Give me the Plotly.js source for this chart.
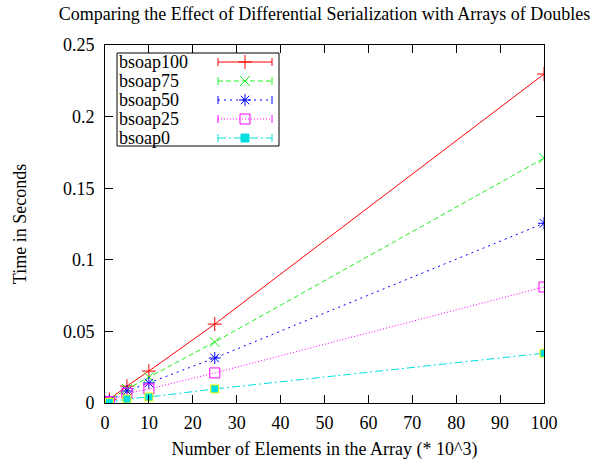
<!DOCTYPE html>
<html>
<head>
<meta charset="utf-8">
<script src="https://cdn.plot.ly/plotly-3.0.1.min.js"></script>
<style>html,body{margin:0;padding:0;background:#fff;}#chart{width:601px;height:460px;}</style>
</head>
<body>
<div id="chart"></div>
<script>
const elements = [0, 1, 5, 10, 25, 100];
const seriesNames = ["bsoap100", "bsoap75", "bsoap50", "bsoap25", "bsoap0"];
const bsoap100 = [0.0004, 0.0025, 0.0118, 0.0223, 0.0551, 0.2297];
const bsoap75  = [0.0003, 0.0020, 0.0098, 0.0180, 0.0426, 0.1710];
const bsoap50  = [0.0003, 0.0015, 0.0084, 0.0140, 0.0314, 0.1255];
const bsoap25  = [0.0002, 0.0010, 0.0068, 0.0098, 0.0210, 0.0810];
const bsoap0   = [0.0001, 0.0005, 0.0028, 0.0042, 0.0098, 0.0348];
const xTicks = [0,10,20,30,40,50,60,70,80,90,100];
const yTicks = [0,0.05,0.1,0.15,0.2,0.25];
const yTickText = ["0","0.05","0.1","0.15","0.2","0.25"];

const values = [bsoap100, bsoap75, bsoap50, bsoap25, bsoap0];
const colors = ["#ff0000", "#22ee22", "#0000ff", "#ff00ff", "#00e0e0"];
const dashes = ["solid", "5px,3px", "2px,4px", "1px,2px", "8px,3px,2px,3px"];
const symbols = ["cross-thin-open", "x-thin-open", "asterisk-open", "square-open", "square"];

const L = 105, R = 544, T = 45, B = 403;

const traces = values.map((v, i) => ({
  x: elements, y: v, name: seriesNames[i], type: "scatter", mode: "lines+markers",
  showlegend: false,
  line: {color: colors[i], width: 1, dash: dashes[i]},
  marker: {symbol: symbols[i], size: i === 4 ? 8 : 10, color: colors[i],
           line: {color: i === 4 ? "#ffff00" : colors[i], width: 1}}
}));

// custom key (gnuplot style) in pixel coordinates via hidden overlay axes
const keyTop = 62, keyStep = 19;
const keyX0 = 218, keyX1 = 272, keyXm = 245;
const shapes = [{type: "rect", xref: "x2", yref: "y2", x0: 117, x1: 279, y0: 53, y1: 146,
                 line: {color: "#000", width: 1}, fillcolor: "#fff", layer: "below"}];
const annotations = [];
seriesNames.forEach((n, i) => {
  const yy = keyTop + i * keyStep;
  shapes.push({type: "line", xref: "x2", yref: "y2", x0: keyX0, x1: keyX1, y0: yy, y1: yy,
               line: {color: colors[i], width: 1, dash: dashes[i]}});
  shapes.push({type: "line", xref: "x2", yref: "y2", x0: keyX0, x1: keyX0, y0: yy - 4, y1: yy + 4,
               line: {color: colors[i], width: 1}});
  shapes.push({type: "line", xref: "x2", yref: "y2", x0: keyX1, x1: keyX1, y0: yy - 4, y1: yy + 4,
               line: {color: colors[i], width: 1}});
  annotations.push({xref: "x2", yref: "y2", x: 118, y: yy, text: n, showarrow: false,
                    xanchor: "left", yanchor: "middle", borderpad: 0,
                    font: {family: "Liberation Serif, Times New Roman, serif", size: 18, color: "#000"}});
  traces.push({x: [keyXm], y: [yy], xaxis: "x2", yaxis: "y2", type: "scatter", mode: "markers",
               showlegend: false, hoverinfo: "skip",
               marker: {symbol: symbols[i], size: i === 4 ? 8 : 10, color: colors[i],
                        line: {color: colors[i], width: 1}}});
});

const font = {family: "Liberation Serif, Times New Roman, serif", color: "#000"};
Plotly.newPlot("chart", traces, {
  width: 601, height: 460,
  margin: {l: L, r: 601 - R, t: T, b: 460 - B},
  paper_bgcolor: "#fff", plot_bgcolor: "#fff",
  font: Object.assign({size: 18}, font),
  title: {text: "Comparing the Effect of Differential Serialization with Arrays of Doubles",
          font: Object.assign({size: 18}, font), x: 0.5, xanchor: "center",
          xref: "paper", yref: "container", y: 1 - 14 / 460, yanchor: "middle"},
  xaxis: {range: [0, 100], tickvals: xTicks, ticks: "inside", ticklen: 8, tickcolor: "#000",
          showgrid: false, zeroline: false, showline: true, linecolor: "#000", linewidth: 1, mirror: "ticks",
          tickfont: Object.assign({size: 18}, font), ticklabelstandoff: 3,
          title: {text: "Number of Elements in the Array (* 10^3)", font: Object.assign({size: 18}, font), standoff: 12}},
  yaxis: {range: [0, 0.25], tickvals: yTicks, ticktext: yTickText, ticks: "inside", ticklen: 8, tickcolor: "#000",
          showgrid: false, zeroline: false, showline: true, linecolor: "#000", linewidth: 1, mirror: "ticks",
          tickfont: Object.assign({size: 18}, font), ticklabelstandoff: 6,
          title: {text: "Time in Seconds", font: Object.assign({size: 18}, font), standoff: 31}},
  xaxis2: {range: [L, R], overlaying: "x", visible: false, fixedrange: true},
  yaxis2: {range: [B, T], overlaying: "y", visible: false, fixedrange: true},
  shapes: shapes,
  annotations: annotations,
  showlegend: false
}, {displayModeBar: false, staticPlot: true});
</script>
</body>
</html>
